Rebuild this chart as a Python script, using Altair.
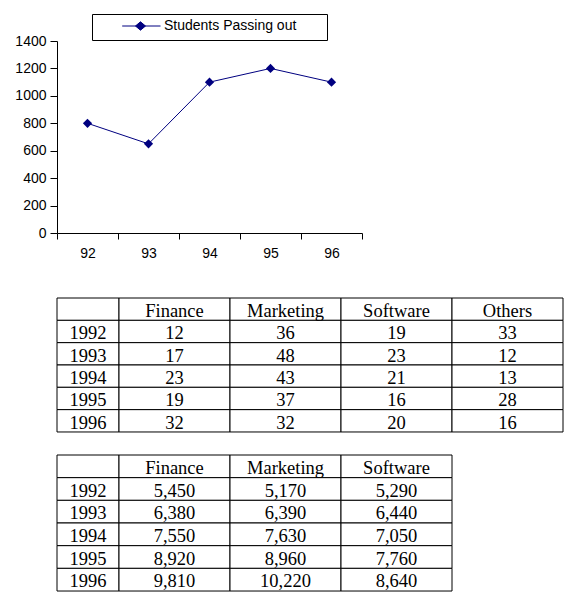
import altair as alt
import pandas as pd

# ---------------- data ----------------
years_short = ["92", "93", "94", "95", "96"]
students = [800, 650, 1100, 1200, 1100]
series_name = "Students Passing out"
y_ticks = [0, 200, 400, 600, 800, 1000, 1200, 1400]

table_years = ["1992", "1993", "1994", "1995", "1996"]

t1_cols = ["Finance", "Marketing", "Software", "Others"]
t1_finance = [12, 17, 23, 19, 32]
t1_marketing = [36, 48, 43, 37, 32]
t1_software = [19, 23, 21, 16, 20]
t1_others = [33, 12, 13, 28, 16]

t2_cols = ["Finance", "Marketing", "Software"]
t2_finance = [5450, 6380, 7550, 8920, 9810]
t2_marketing = [5170, 6390, 7630, 8960, 10220]
t2_software = [5290, 6440, 7050, 7760, 8640]

# ---------------- layout constants ----------------
NAVY = "#000080"
PLOT_W, PLOT_H = 305, 192
YEAR_W, COL_W = 62, 111
SANS = "Liberation Sans"
SERIF = "Liberation Serif"
AXIS_FS = 14

# ---------------- line chart ----------------
line_df = pd.DataFrame({"year": years_short, "value": students,
                        "series": [series_name] * len(students)})

x_enc = alt.X(
    "year:N",
    scale=alt.Scale(type="band", domain=years_short, paddingInner=0, paddingOuter=0),
    bandPosition=0.5,
    axis=alt.Axis(title=None, labelAngle=0, tickBand="extent", tickSize=6,
                  labelPadding=7, grid=False, labelFont=SANS, labelFontSize=AXIS_FS,
                  labelColor="black", domainColor="black", tickColor="black"),
)
y_enc = alt.Y(
    "value:Q",
    scale=alt.Scale(domain=[0, 1400], nice=False, zero=True),
    axis=alt.Axis(title=None, values=y_ticks, format="d", grid=False, tickSize=7,
                  labelPadding=4, labelFont=SANS, labelFontSize=AXIS_FS,
                  labelColor="black", domainColor="black", tickColor="black"),
)

legend_symbol = "M-0.256,0L1,0M0.344,-0.138L0.508,0L0.344,0.138L0.18,0Z"
pad_right = "\u00a0" * 6 + "\u200b"

line = alt.Chart(line_df).mark_line(color=NAVY, strokeWidth=1).encode(x=x_enc, y=y_enc)
points = alt.Chart(line_df).mark_point(shape="diamond", filled=True, size=85, opacity=1).encode(
    x=x_enc,
    y=y_enc,
    color=alt.Color(
        "series:N",
        scale=alt.Scale(domain=[series_name], range=[NAVY]),
        legend=alt.Legend(
            title=None, orient="none", legendX=35, legendY=-27,
            strokeColor="black", fillColor="white", padding=7,
            symbolType=legend_symbol, symbolSize=3721,
            symbolFillColor=NAVY, symbolStrokeColor=NAVY, symbolStrokeWidth=1,
            symbolOpacity=1, clipHeight=10,
            labelFont=SANS, labelFontSize=14, labelColor="black", labelOffset=3,
            labelExpr="datum.label + '" + pad_right + "'",
        ),
    ),
)
line_chart = alt.layer(line, points).properties(width=PLOT_W, height=PLOT_H)


# ---------------- tables ----------------
def table_chart(cols, values_by_col, fmt, gap, row_h, dy):
    rows = ["hdr"] + table_years
    W = YEAR_W + len(cols) * COL_W
    H = gap + len(rows) * row_h

    year_df = pd.DataFrame({"row": rows, "col": ["year"] * len(rows),
                            "label": [""] + table_years})
    recs = []
    for c, vals in zip(cols, values_by_col):
        recs.append({"row": "hdr", "col": c, "label": c})
        for r, v in zip(table_years, vals):
            recs.append({"row": r, "col": c, "label": fmt(v)})
    data_df = pd.DataFrame(recs)

    ys = alt.Scale(type="band", domain=rows, range=[gap, H], paddingInner=0, paddingOuter=0)
    xs_year = alt.Scale(type="band", domain=["year"], range=[0, YEAR_W], paddingInner=0, paddingOuter=0)
    xs_data = alt.Scale(type="band", domain=cols, range=[YEAR_W, W], paddingInner=0, paddingOuter=0)

    cell = dict(fill="white", stroke="black", strokeWidth=1)
    txt = dict(font=SERIF, fontSize=18.5, color="black", baseline="middle", align="center", dy=dy)

    def layers(df, xs):
        r = alt.Chart(df).mark_rect(**cell).encode(
            x=alt.X("col:N", scale=xs, axis=None),
            y=alt.Y("row:N", scale=ys, axis=None),
        )
        t = alt.Chart(df).mark_text(**txt).encode(
            x=alt.X("col:N", scale=xs, axis=None, bandPosition=0.5),
            y=alt.Y("row:N", scale=ys, axis=None, bandPosition=0.5),
            text="label:N",
        )
        return r, t

    yr, yt = layers(year_df, xs_year)
    dr, dt = layers(data_df, xs_data)
    return (alt.layer(yr, dr, yt, dt)
            .resolve_scale(x="independent")
            .properties(width=W, height=H))


t1 = table_chart(t1_cols, [t1_finance, t1_marketing, t1_software, t1_others],
                 lambda v: str(v), gap=65, row_h=22.33, dy=2)
t2 = table_chart(t2_cols, [t2_finance, t2_marketing, t2_software],
                 lambda v: f"{v:,}", gap=23, row_h=22.67, dy=1.5)

chart = (
    alt.vconcat(line_chart, t1, t2, spacing=0, bounds="flush")
    .properties(padding={"left": 14, "top": 13, "right": 0, "bottom": 0})
    .configure_view(stroke=None)
)

chart.save("out.html", embed_options={"renderer": "svg", "actions": False})
